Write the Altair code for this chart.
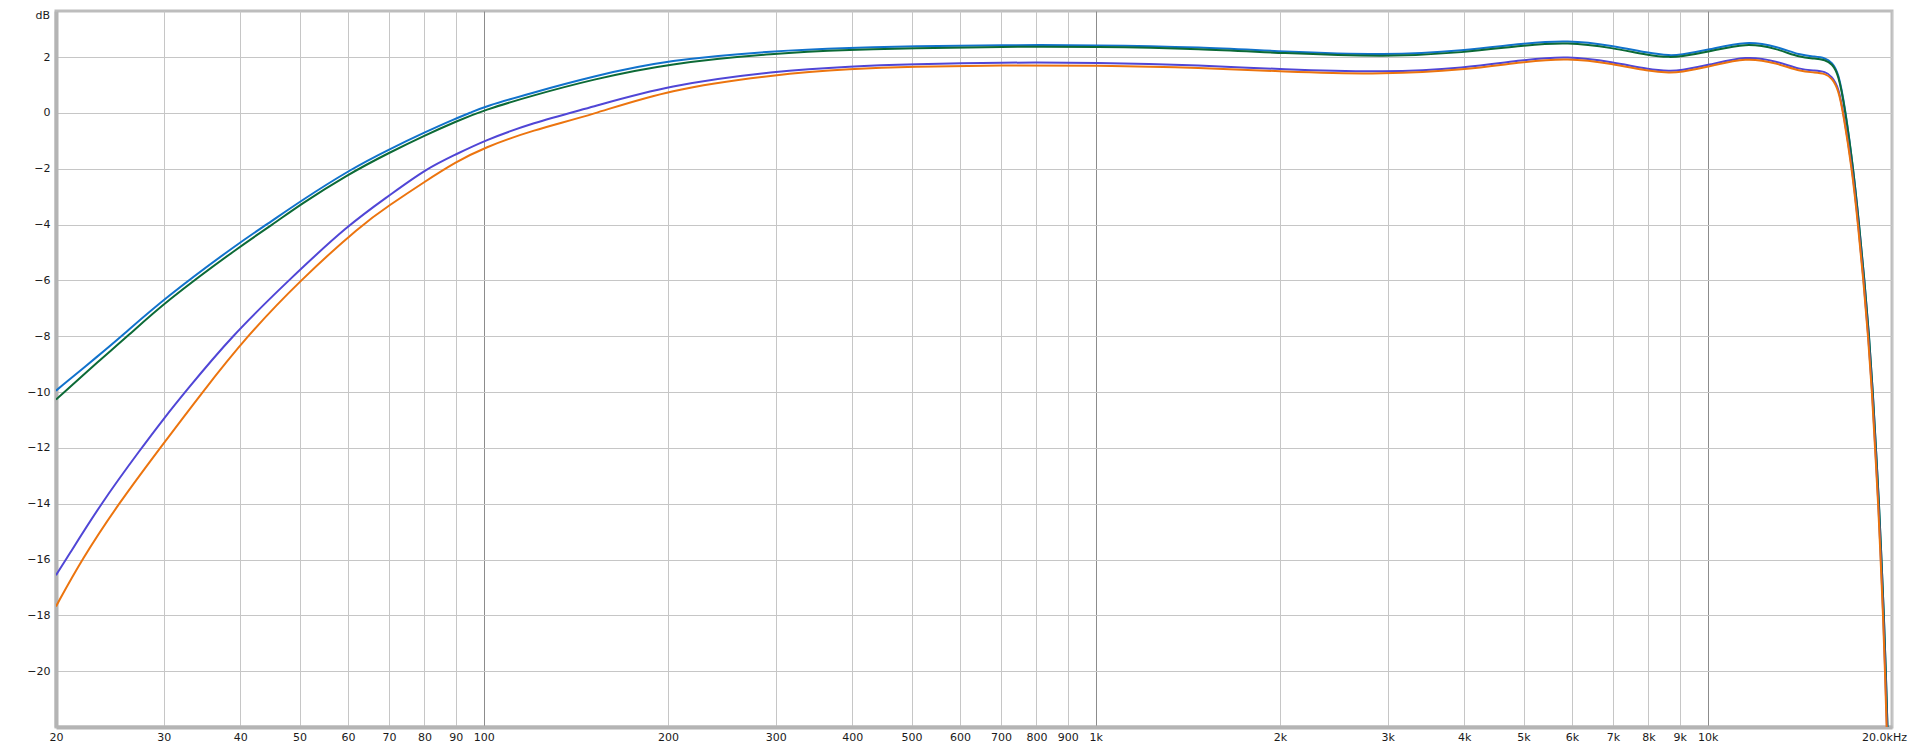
import altair as alt
import pandas as pd

# ---- data (frequency in Hz, level in dB) ----
BLUE_HZ = [20, 23.6, 25.6, 30, 40, 44.2, 50, 60.8, 70, 80, 90, 95, 100, 120, 150, 200, 300, 400, 500,
           700, 1000, 1500, 2000, 3000, 4000, 5000, 5900, 7000, 8000, 8700, 9000, 10000, 11580, 12970,
           14150, 14970, 15550, 15950, 16350, 16760, 17290, 17670, 18030, 18350, 18610, 18820, 19050,
           19220, 19400, 19540, 19660, 19760]
BLUE_DB = [-9.95, -8.65, -8.0, -6.66, -4.62, -4.0, -3.18, -2.0, -1.31, -0.70, -0.20, 0.0, 0.22, 0.72,
           1.30, 1.90, 2.23, 2.33, 2.39, 2.43, 2.43, 2.35, 2.20, 2.06, 2.23, 2.49, 2.61, 2.41, 2.14, 2.05,
           2.08, 2.25, 2.59, 2.38, 2.06, 2.02, 1.97, 1.82, 1.46, 0.2, -2.0, -4.0, -6.0, -8.0, -10.0, -12.0,
           -14.0, -16.0, -18.0, -20.0, -22.0, -23.5]

GREEN_HZ = [20, 23.6, 26.2, 30, 40, 45.2, 50, 60, 70, 80, 90, 100, 120, 150, 200, 300, 400, 500,
            700, 1000, 1500, 2000, 3000, 4000, 5000, 5900, 7000, 8000, 8700, 9000, 10000, 11580, 12970,
            14150, 14970, 15550, 15950, 16350, 16760, 17290, 17670, 18030, 18350, 18610, 18820, 19050,
            19220, 19400, 19540, 19660, 19760]
GREEN_DB = [-10.27, -8.85, -8.0, -6.81, -4.77, -4.0, -3.30, -2.20, -1.43, -0.81, -0.31, 0.10, 0.62,
            1.19, 1.77, 2.14, 2.26, 2.32, 2.37, 2.37, 2.29, 2.14, 2.00, 2.16, 2.42, 2.54, 2.33, 2.06, 1.99,
            2.02, 2.18, 2.52, 2.30, 1.98, 1.95, 1.90, 1.76, 1.40, 0.15, -2.0, -4.0, -6.0, -8.0, -10.0,
            -12.0, -14.0, -16.0, -18.0, -20.0, -22.0, -23.5]

PURPLE_HZ = [20, 20.77, 23.67, 27.6, 30, 32.5, 38.7, 47.96, 60.1, 70, 80.5, 90, 100, 120, 150, 200,
             300, 400, 500, 700, 1000, 1500, 2000, 3000, 4000, 5000, 5900, 7000, 8000, 8700, 9000, 10000,
             11580, 12970, 14150, 14970, 15550, 15950, 16350, 16660, 17230, 17620, 17980, 18300, 18570,
             18780, 19010, 19180, 19360, 19500, 19620, 19720]
PURPLE_DB = [-16.56, -16.0, -14.0, -12.0, -10.95, -10.0, -8.0, -6.0, -4.0, -2.97, -2.0, -1.49,
             -1.0, -0.36, 0.2, 0.99, 1.50, 1.67, 1.74, 1.81, 1.80, 1.70, 1.56, 1.44, 1.61, 1.90, 2.04,
             1.82, 1.56, 1.49, 1.52, 1.70, 2.06, 1.85, 1.55, 1.52, 1.48, 1.31, 0.93, 0.0, -2.0, -4.0,
             -6.0, -8.0, -10.0, -12.0, -14.0, -16.0, -18.0, -20.0, -22.0, -23.5]

ORANGE_HZ = [20, 22.03, 25.3, 29.6, 34.7, 41.0, 50.1, 63.2, 70, 80, 90, 100, 120, 150, 200, 300, 400, 500,
             700, 1000, 1500, 2000, 3000, 4000, 5000, 5900, 7000, 8000, 8700, 9000, 10000, 11580, 12970,
             14150, 14970, 15550, 15950, 16350, 16660, 17200, 17600, 17960, 18280, 18550, 18760, 18990,
             19160, 19340, 19480, 19600, 19700]
ORANGE_DB = [-17.68, -16.0, -14.0, -12.0, -10.0, -8.0, -6.0, -4.0, -3.32, -2.47, -1.76, -1.25, -0.62, -0.08,
             0.84, 1.38, 1.58, 1.66, 1.71, 1.70, 1.62, 1.48, 1.37, 1.54, 1.83, 1.97, 1.76, 1.49, 1.43,
             1.46, 1.64, 2.00, 1.78, 1.48, 1.45, 1.41, 1.25, 0.84, -0.05, -2.0, -4.0, -6.0, -8.0, -10.0,
             -12.0, -14.0, -16.0, -18.0, -20.0, -22.0, -23.5]

SERIES = [("blue", BLUE_HZ, BLUE_DB, "#1172cc"),
          ("green", GREEN_HZ, GREEN_DB, "#0c6a36"),
          ("purple", PURPLE_HZ, PURPLE_DB, "#5046d6"),
          ("orange", ORANGE_HZ, ORANGE_DB, "#ec740e")]

HZ_TICKS = [20, 30, 40, 50, 60, 70, 80, 90, 100, 200, 300, 400, 500, 600, 700, 800, 900,
            1000, 2000, 3000, 4000, 5000, 6000, 7000, 8000, 9000, 10000, 20000]
DB_TICKS = [-20, -18, -16, -14, -12, -10, -8, -6, -4, -2, 0, 2]
Y_UNIT = "dB"

W, H = 1836, 716
FONT = "DejaVu Sans"

x_enc = alt.X(
    "hz:Q",
    scale=alt.Scale(type="log", domain=[20, 20000], nice=False),
    axis=alt.Axis(
        values=HZ_TICKS, title=None, ticks=False, tickSize=0, labelPadding=4,
        labelOverlap=False, labelFlush=False, labelFont=FONT, labelFontSize=11,
        labelColor="#1a1a1a",
        labelExpr="datum.value >= 20000 ? '20.0kHz' : (datum.value >= 1000 ? (datum.value/1000) + 'k' : '' + datum.value)",
        labelOffset={"condition": {"test": "datum.value >= 20000", "value": -8}, "value": 0},
        gridColor={"condition": {"test": "datum.value == 100 || datum.value == 1000 || datum.value == 10000",
                                 "value": "#8c8c8c"}, "value": "#c6c6c6"},
        gridWidth=1, domainColor="#b4b4b4", domainWidth=4,
    ),
)
y_enc = alt.Y(
    "db:Q",
    scale=alt.Scale(domain=[-22, 3.65], nice=False, zero=False),
    axis=alt.Axis(
        values=DB_TICKS, title=None, ticks=False, tickSize=0, labelPadding=6,
        labelFont=FONT, labelFontSize=11, labelColor="#1a1a1a",
        gridColor="#c6c6c6", gridWidth=1, domainColor="#b4b4b4", domainWidth=4,
    ),
)

layers = []
for name, hz, db, col in SERIES:
    df = pd.DataFrame({"hz": hz, "db": db})
    layers.append(
        alt.Chart(df).mark_line(color=col, strokeWidth=2, interpolate="basis", clip=True)
        .encode(x=x_enc, y=y_enc)
    )

unit = alt.Chart(pd.DataFrame({"t": [Y_UNIT]})).mark_text(
    align="right", baseline="alphabetic", font=FONT, fontSize=11, color="#1a1a1a"
).encode(x=alt.value(-6), y=alt.value(8), text="t:N")

chart = alt.layer(*layers, unit).properties(
    width=W, height=H,
    padding={"left": 48, "top": 3, "right": 18, "bottom": 18},
    autosize=alt.AutoSizeParams(type="none"),
    background="white",
).configure_view(stroke="#bdbdbd", strokeWidth=3)

chart.save("out.html", embed_options={"renderer": "svg", "actions": False})
